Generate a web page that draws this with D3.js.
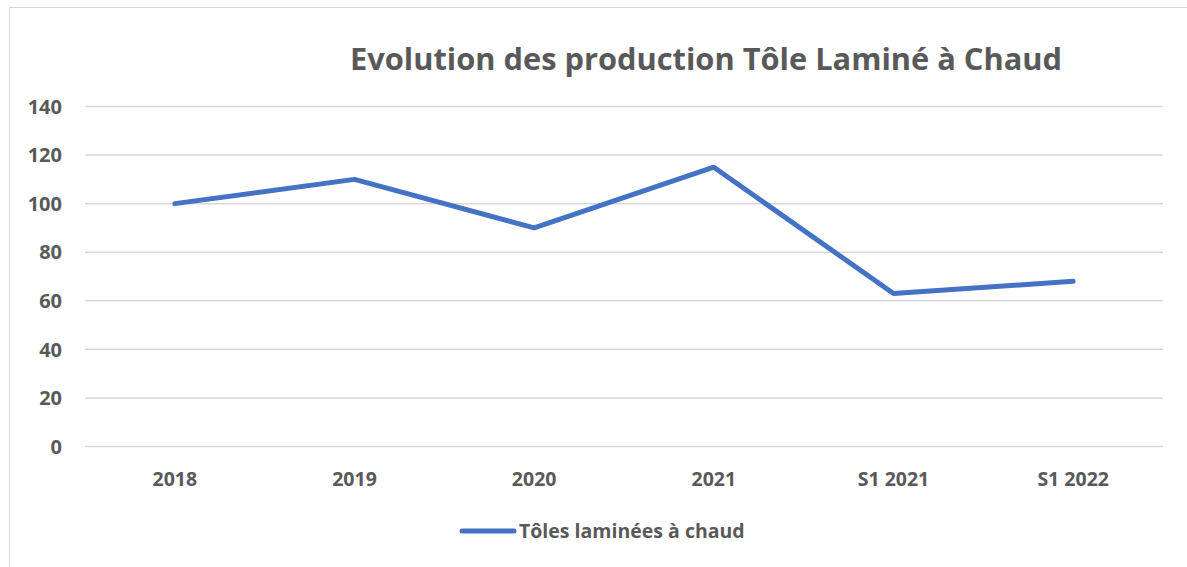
<!DOCTYPE html>
<html><head><meta charset="utf-8">
<script src="https://cdn.jsdelivr.net/npm/d3@7/dist/d3.min.js"></script>
<style>body{margin:0;background:#fff;} text{font-family:"Open Sans",sans-serif;font-weight:700;fill:#595959;}</style>
</head><body><svg id="c" width="1187" height="567"></svg>
<script>
const categories = ["2018","2019","2020","2021","S1 2021","S1 2022"];
const values = [100,110,90,115,63,68];
const yTicks = [0,20,40,60,80,100,120,140];
const seriesName = "Tôles laminées à chaud";
const title = "Evolution des production Tôle Laminé à Chaud";

const svg = d3.select("#c");
svg.append("rect").attr("x",9.5).attr("y",7.5).attr("width",1190).attr("height",600)
  .attr("fill","#fff").attr("stroke","#d9d9d9").attr("stroke-width",1);

const L=85,R=1163,T=106.5,B=446.5;
const x = d3.scaleBand().domain(categories).range([L,R]);
const y = d3.scaleLinear().domain([0,140]).range([B,T]);

svg.append("g").selectAll("line").data(yTicks).join("line")
  .attr("x1",L).attr("x2",R).attr("y1",d=>y(d)).attr("y2",d=>y(d))
  .attr("stroke","#d9d9d9").attr("stroke-width",1.5);

svg.append("g").selectAll("text").data(yTicks).join("text")
  .attr("x",62).attr("y",d=>y(d)).attr("dy","0.36em").attr("text-anchor","end")
  .attr("font-size",20).text(d=>d);

svg.append("g").selectAll("text").data(categories).join("text")
  .attr("x",d=>x(d)+x.bandwidth()/2).attr("y",485.5).attr("text-anchor","middle")
  .attr("font-size",19.5).text(d=>d);

const line = d3.line().x((d,i)=>x(categories[i])+x.bandwidth()/2).y(d=>y(d));
svg.append("path").datum(values).attr("d",line).attr("fill","none")
  .attr("stroke","#4472c4").attr("stroke-width",5).attr("stroke-linecap","round").attr("stroke-linejoin","round");

svg.append("text").attr("x",706).attr("y",70).attr("text-anchor","middle")
  .attr("font-size",30.8).text(title);

svg.append("line").attr("x1",462).attr("x2",514).attr("y1",531).attr("y2",531)
  .attr("stroke","#4472c4").attr("stroke-width",5).attr("stroke-linecap","round");
svg.append("text").attr("x",519).attr("y",538).attr("font-size",19.5).text(seriesName);
</script></body></html>
